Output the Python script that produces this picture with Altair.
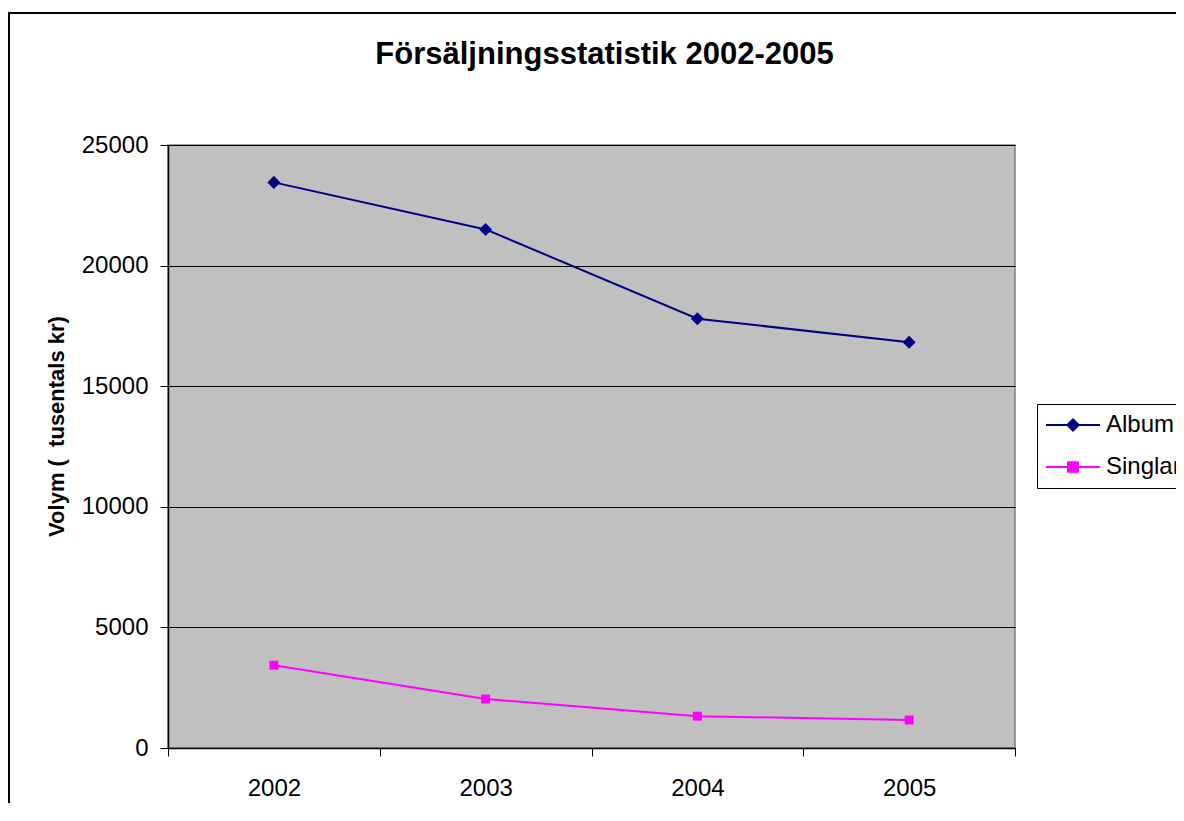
import altair as alt
import pandas as pd

years = ["2002", "2003", "2004", "2005"]
album = [23450, 21500, 17800, 16820]
singlar = [3430, 2030, 1320, 1160]
series_names = ["Album", "Singlar"]

rows = []
for name, vals in zip(series_names, [album, singlar]):
    for y, v in zip(years, vals):
        rows.append({"year": y, "value": v, "series": name})
df = pd.DataFrame(rows)

FONT = "Liberation Sans"
styles = {
    "Album": {"color": "#000080", "shape": "diamond", "size": 170},
    "Singlar": {"color": "#FF00FF", "shape": "square", "size": 80},
}
legend_paths = [
    "M-1,-0.035H1V0.035H-1Z M0,-0.26L0.26,0L0,0.26L-0.26,0Z",
    "M-1,-0.035H1V0.035H-1Z M-0.22,-0.21H0.22V0.21H-0.22Z",
]

x_enc = alt.X(
    "year:O",
    scale=alt.Scale(type="band", paddingInner=0, paddingOuter=0, domain=years),
    axis=alt.Axis(
        title=None, labelAngle=0, grid=False, tickBand="extent", tickSize=8,
        labelPadding=20, labelFontSize=24, labelFont=FONT, labelColor="black",
        domainColor="black", tickColor="black", domainWidth=1.5, tickWidth=1,
    ),
)
y_enc = alt.Y(
    "value:Q",
    scale=alt.Scale(domain=[0, 25000], nice=False),
    axis=alt.Axis(
        title="Volym (\u00a0 tusentals kr)", values=[0, 5000, 10000, 15000, 20000, 25000],
        format="d",
        grid=True, gridColor="black", gridWidth=1, tickSize=8, labelPadding=12,
        labelFontSize=24, labelFont=FONT, labelColor="black",
        domainColor="black", tickColor="black", domainWidth=1.5,
        titleFontSize=22, titleFont=FONT, titleFontWeight="bold", titleColor="black",
        titleX=-112, titleY=281, titleBaseline="middle", titleAngle=270,
    ),
)

base = alt.Chart(df)
layers = []
for name in series_names:
    st = styles[name]
    sub = base.transform_filter(alt.datum.series == name)
    layers.append(sub.mark_line(color=st["color"], strokeWidth=2).encode(x=x_enc, y=y_enc))
    layers.append(
        sub.mark_point(filled=True, opacity=1, color=st["color"], shape=st["shape"], size=st["size"])
        .encode(x=x_enc, y=y_enc)
    )

leg = alt.Legend(
    title=None, orient="none", legendX=869, legendY=259, strokeColor="black",
    fillColor="white", padding=7, symbolSize=2916, labelFontSize=24, labelFont=FONT,
    labelColor="black", rowPadding=14, clipHeight=28, symbolOffset=2, labelOffset=6,
    symbolStrokeWidth=0, symbolOpacity=1,
)
legend_layer = base.transform_filter("false").mark_point(filled=True).encode(
    x=x_enc, y=y_enc,
    color=alt.Color("series:N", scale=alt.Scale(domain=series_names, range=[styles[n]["color"] for n in series_names]), legend=leg),
    shape=alt.Shape("series:N", scale=alt.Scale(domain=series_names, range=legend_paths), legend=leg),
)

frame = alt.Chart(pd.DataFrame({"a": [0]})).mark_rect(
    fill="transparent", stroke="black", strokeWidth=2
).encode(x=alt.value(-159), x2=alt.value(1100), y=alt.value(-132), y2=alt.value(800))

chart = alt.layer(frame, *layers, legend_layer).properties(
    width=847, height=603,
    title=alt.TitleParams(
        "Försäljningsstatistik 2002-2005", fontSize=31, font=FONT, fontWeight="bold",
        color="black", anchor="middle", dx=13, dy=63,
    ),
    padding={"left": 160, "top": 137, "right": 161, "bottom": 55},
    autosize=alt.AutoSizeParams(type="none"),
).configure(background="white").configure_view(fill="#C0C0C0", stroke="#808080", strokeWidth=1.5)

chart.save("out.html", embed_options={"renderer": "svg", "actions": False})
